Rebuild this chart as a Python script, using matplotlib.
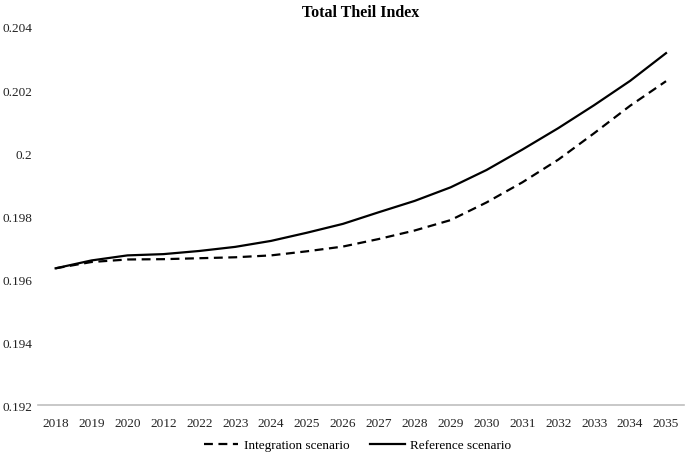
import matplotlib
matplotlib.use("Agg")
import matplotlib.pyplot as plt

# Data
years = ['2018', '2019', '2020', '2012', '2022', '2023', '2024', '2025', '2026',
         '2027', '2028', '2029', '2030', '2031', '2032', '2033', '2034', '2035']
integration = [0.19634, 0.19654, 0.19662, 0.19663, 0.19666, 0.19669, 0.19675,
               0.19688, 0.19703, 0.19727, 0.19754, 0.19787, 0.19843, 0.19907,
               0.19979, 0.20063, 0.20150, 0.20228]
reference = [0.19634, 0.19659, 0.19675, 0.19679, 0.19689, 0.19702, 0.19721,
             0.19747, 0.19775, 0.19812, 0.19848, 0.19891, 0.19946, 0.20011,
             0.20079, 0.20152, 0.20229, 0.20317]
yticks = [0.192, 0.194, 0.196, 0.198, 0.2, 0.202, 0.204]
ytick_labels = ['0.192', '0.194', '0.196', '0.198', '0.2', '0.202', '0.204']

plt.rcParams['font.family'] = ['Liberation Serif', 'DejaVu Serif']

fig = plt.figure(figsize=(6.85, 4.56), dpi=100)
ax = fig.add_axes([0.055, 0.1096, 0.9435, 0.829])

pos = list(range(len(years)))
ax.plot(pos, integration, color='black', linewidth=1.6,
        linestyle=(0, (4, 2.5)), label='Integration scenario')
ax.plot(pos, reference, color='black', linewidth=1.6,
        label='Reference scenario')

ax.set_xlim(-0.5, len(years) - 0.5)
ax.set_ylim(0.192, 0.204)
ax.set_xticks(pos)
ax.set_xticklabels(years)
ax.set_yticks(yticks)
ax.set_yticklabels(ytick_labels)
ax.tick_params(axis='both', length=0, labelsize=9.5, colors='#222222')
ax.tick_params(axis='x', pad=8.5)
ax.tick_params(axis='y', pad=4)

for name in ['top', 'right', 'left']:
    ax.spines[name].set_visible(False)
ax.spines['bottom'].set_color('#bfbfbf')
ax.spines['bottom'].set_linewidth(1.2)

fig.suptitle('Total Theil Index', fontsize=11.5, fontweight='bold',
             x=0.527, y=0.99, va='top')

fig.legend(loc='lower center', bbox_to_anchor=(0.522, -0.018), ncol=2,
           frameon=False, fontsize=9.5, handlelength=2.6, handletextpad=0.4,
           columnspacing=1.6)

fig.savefig('out.png', dpi=100)
